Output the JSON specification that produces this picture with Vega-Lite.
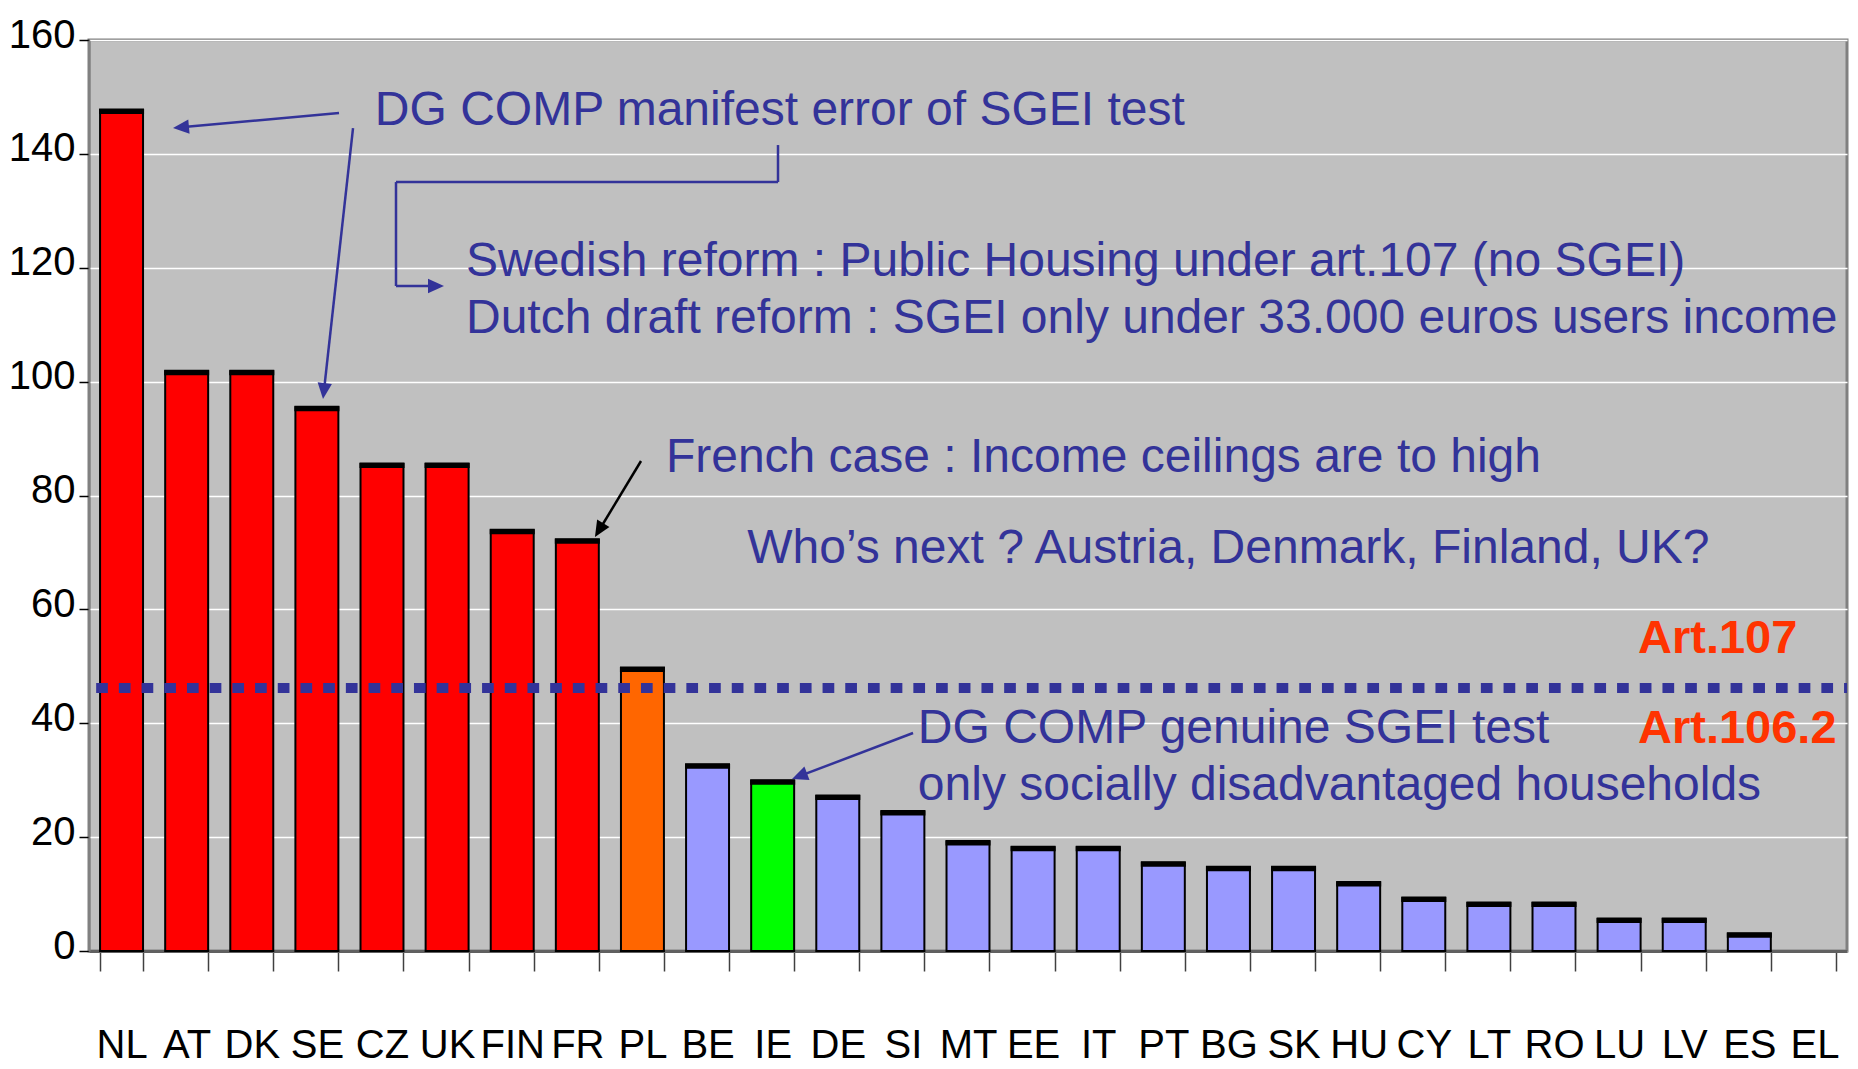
{
  "$schema": "https://vega.github.io/schema/vega-lite/v6.json",
  "width": 1758,
  "height": 911,
  "autosize": {"type": "none"},
  "padding": {"left": 89, "top": 40, "right": 11, "bottom": 118},
  "background": "white",
  "config": {
    "view": {"fill": "#C0C0C0", "stroke": "#808080", "strokeWidth": 3},
    "axis": {"title": null},
    "axisY": {
      "labelFont": "'Liberation Sans', Arial, sans-serif",
      "labelFontSize": 40,
      "labelColor": "black",
      "labelPadding": 4,
      "labelOffset": -5,
      "labelOverlap": false,
      "tickColor": "black",
      "tickSize": 10,
      "tickWidth": 1.5,
      "domainColor": "#808080",
      "domainWidth": 2,
      "grid": true,
      "gridColor": "white",
      "gridWidth": 1.5
    },
    "axisX": {
      "labelFont": "'Liberation Sans', Arial, sans-serif",
      "labelFontSize": 40,
      "labelColor": "black",
      "labelAngle": 0,
      "labelBaseline": "alphabetic",
      "labelPadding": 86,
      "tickBand": "extent",
      "tickSize": 20,
      "tickColor": "#404040",
      "tickWidth": 1.5,
      "domainColor": "#606060",
      "domainWidth": 3,
      "grid": false
    }
  },
  "datasets": {
    "bars": [
      {"country": "NL", "value": 147.8, "group": "above"},
      {"country": "AT", "value": 101.9, "group": "above"},
      {"country": "DK", "value": 101.9, "group": "above"},
      {"country": "SE", "value": 95.6, "group": "above"},
      {"country": "CZ", "value": 85.6, "group": "above"},
      {"country": "UK", "value": 85.6, "group": "above"},
      {"country": "FIN", "value": 74.0, "group": "above"},
      {"country": "FR", "value": 72.3, "group": "above"},
      {"country": "PL", "value": 49.8, "group": "border"},
      {"country": "BE", "value": 32.8, "group": "below"},
      {"country": "IE", "value": 30.0, "group": "ireland"},
      {"country": "DE", "value": 27.3, "group": "below"},
      {"country": "SI", "value": 24.6, "group": "below"},
      {"country": "MT", "value": 19.3, "group": "below"},
      {"country": "EE", "value": 18.3, "group": "below"},
      {"country": "IT", "value": 18.3, "group": "below"},
      {"country": "PT", "value": 15.6, "group": "below"},
      {"country": "BG", "value": 14.8, "group": "below"},
      {"country": "SK", "value": 14.8, "group": "below"},
      {"country": "HU", "value": 12.1, "group": "below"},
      {"country": "CY", "value": 9.4, "group": "below"},
      {"country": "LT", "value": 8.5, "group": "below"},
      {"country": "RO", "value": 8.5, "group": "below"},
      {"country": "LU", "value": 5.7, "group": "below"},
      {"country": "LV", "value": 5.7, "group": "below"},
      {"country": "ES", "value": 3.1, "group": "below"},
      {"country": "EL", "value": 0, "group": "below"}
    ],
    "threshold": [{"x": 0.11, "x2": 27, "y": 46.2}],
    "blueSegments": [
      {"x": 3.84, "y": 147.17, "x2": 1.413, "y2": 144.66},
      {"x": 4.055, "y": 144.54, "x2": 3.608, "y2": 98.35},
      {"x": 10.582, "y": 141.55, "x2": 10.582, "y2": 135.05},
      {"x": 10.582, "y": 135.05, "x2": 4.715, "y2": 135.05},
      {"x": 4.715, "y": 135.05, "x2": 4.715, "y2": 116.79},
      {"x": 4.715, "y": 116.79, "x2": 5.33, "y2": 116.79},
      {"x": 12.656, "y": 38.29, "x2": 10.91, "y2": 30.7}
    ],
    "blackSegments": [
      {"x": 8.478, "y": 86.06, "x2": 7.835, "y2": 73.9}
    ],
    "heads": [
      {"arrow": "a", "x": 1.29, "y": 144.54},
      {"arrow": "b", "x": 3.594, "y": 96.94},
      {"arrow": "c", "x": 5.452, "y": 116.79},
      {"arrow": "d", "x": 7.771, "y": 72.71},
      {"arrow": "e", "x": 10.797, "y": 30.21}
    ],
    "notes": [
      {"label": "DG COMP manifest error of SGEI test", "x": 4.39, "y": 145.1},
      {"label": "Swedish reform : Public Housing under art.107 (no SGEI)", "x": 5.79, "y": 118.6},
      {"label": "Dutch draft reform : SGEI only under 33.000 euros users income", "x": 5.79, "y": 108.6},
      {"label": "French case : Income ceilings are to high", "x": 8.86, "y": 84.1},
      {"label": "Who’s next ? Austria, Denmark, Finland, UK?", "x": 10.11, "y": 68.1},
      {"label": "DG COMP genuine SGEI test", "x": 12.73, "y": 36.5},
      {"label": "only socially disadvantaged households", "x": 12.73, "y": 26.5}
    ],
    "arts": [
      {"label": "Art.107", "x": 23.79, "y": 52.3},
      {"label": "Art.106.2", "x": 23.79, "y": 36.6}
    ]
  },
  "layer": [
    {
      "data": {"name": "bars"},
      "layer": [
        {
          "mark": {"type": "bar", "stroke": "black", "strokeWidth": 2},
          "encoding": {
            "x": {"field": "country", "type": "nominal", "sort": null,
                  "scale": {"paddingInner": 0.34, "paddingOuter": 0.17}},
            "y": {"field": "value", "type": "quantitative", "scale": {"domain": [0, 160], "nice": false},
                  "axis": {"values": [0, 20, 40, 60, 80, 100, 120, 140, 160]}},
            "color": {"field": "group", "type": "nominal", "legend": null,
                      "scale": {"domain": ["above", "border", "ireland", "below"],
                                "range": ["#FF0000", "#FF6600", "#00FF00", "#9999FF"]}},
            "strokeOpacity": {"condition": {"test": "datum.value == 0", "value": 0}, "value": 1}
          }
        },
        {
          "transform": [{"filter": "datum.value > 0"}],
          "mark": {"type": "tick", "color": "black", "size": 45, "thickness": 5, "yOffset": 2, "opacity": 1},
          "encoding": {
            "x": {"field": "country", "type": "nominal", "sort": null},
            "y": {"field": "value", "type": "quantitative", "axis": {"values": [0, 20, 40, 60, 80, 100, 120, 140, 160]}}
          }
        }
      ]
    },
    {
      "data": {"name": "threshold"},
      "mark": {"type": "rule", "color": "#333399", "strokeWidth": 10, "strokeDash": [11.7, 11], "strokeCap": "butt"},
      "encoding": {
        "x": {"field": "x", "type": "quantitative", "scale": {"domain": [0, 27], "nice": false, "zero": false}, "axis": null},
        "x2": {"field": "x2"},
        "y": {"field": "y", "type": "quantitative", "axis": {"values": [0, 20, 40, 60, 80, 100, 120, 140, 160]}}
      }
    },
    {
      "data": {"name": "blueSegments"},
      "mark": {"type": "rule", "color": "#333399", "strokeWidth": 2.5},
      "encoding": {
        "x": {"field": "x", "type": "quantitative", "scale": {"domain": [0, 27], "nice": false, "zero": false}, "axis": null},
        "x2": {"field": "x2"},
        "y": {"field": "y", "type": "quantitative", "axis": {"values": [0, 20, 40, 60, 80, 100, 120, 140, 160]}},
        "y2": {"field": "y2"}
      }
    },
    {
      "data": {"name": "blackSegments"},
      "mark": {"type": "rule", "color": "black", "strokeWidth": 2.5},
      "encoding": {
        "x": {"field": "x", "type": "quantitative", "scale": {"domain": [0, 27], "nice": false, "zero": false}, "axis": null},
        "x2": {"field": "x2"},
        "y": {"field": "y", "type": "quantitative", "axis": {"values": [0, 20, 40, 60, 80, 100, 120, 140, 160]}},
        "y2": {"field": "y2"}
      }
    },
    {
      "data": {"name": "heads"},
      "transform": [{"filter": "datum.arrow == 'a'"}],
      "mark": {"type": "point", "shape": "M0,0L-0.45,1L0.45,1Z", "filled": true, "color": "#333399", "opacity": 1, "size": 1024, "angle": 264.8, "strokeWidth": 0},
      "encoding": {
        "x": {"field": "x", "type": "quantitative", "scale": {"domain": [0, 27], "nice": false, "zero": false}, "axis": null},
        "y": {"field": "y", "type": "quantitative", "axis": {"values": [0, 20, 40, 60, 80, 100, 120, 140, 160]}}
      }
    },
    {
      "data": {"name": "heads"},
      "transform": [{"filter": "datum.arrow == 'b'"}],
      "mark": {"type": "point", "shape": "M0,0L-0.45,1L0.45,1Z", "filled": true, "color": "#333399", "opacity": 1, "size": 1024, "angle": 186.3, "strokeWidth": 0},
      "encoding": {
        "x": {"field": "x", "type": "quantitative", "scale": {"domain": [0, 27], "nice": false, "zero": false}, "axis": null},
        "y": {"field": "y", "type": "quantitative", "axis": {"values": [0, 20, 40, 60, 80, 100, 120, 140, 160]}}
      }
    },
    {
      "data": {"name": "heads"},
      "transform": [{"filter": "datum.arrow == 'c'"}],
      "mark": {"type": "point", "shape": "M0,0L-0.45,1L0.45,1Z", "filled": true, "color": "#333399", "opacity": 1, "size": 1024, "angle": 90, "strokeWidth": 0},
      "encoding": {
        "x": {"field": "x", "type": "quantitative", "scale": {"domain": [0, 27], "nice": false, "zero": false}, "axis": null},
        "y": {"field": "y", "type": "quantitative", "axis": {"values": [0, 20, 40, 60, 80, 100, 120, 140, 160]}}
      }
    },
    {
      "data": {"name": "heads"},
      "transform": [{"filter": "datum.arrow == 'd'"}],
      "mark": {"type": "point", "shape": "M0,0L-0.45,1L0.45,1Z", "filled": true, "color": "black", "opacity": 1, "size": 1024, "angle": 211.2, "strokeWidth": 0},
      "encoding": {
        "x": {"field": "x", "type": "quantitative", "scale": {"domain": [0, 27], "nice": false, "zero": false}, "axis": null},
        "y": {"field": "y", "type": "quantitative", "axis": {"values": [0, 20, 40, 60, 80, 100, 120, 140, 160]}}
      }
    },
    {
      "data": {"name": "heads"},
      "transform": [{"filter": "datum.arrow == 'e'"}],
      "mark": {"type": "point", "shape": "M0,0L-0.45,1L0.45,1Z", "filled": true, "color": "#333399", "opacity": 1, "size": 1024, "angle": 249.2, "strokeWidth": 0},
      "encoding": {
        "x": {"field": "x", "type": "quantitative", "scale": {"domain": [0, 27], "nice": false, "zero": false}, "axis": null},
        "y": {"field": "y", "type": "quantitative", "axis": {"values": [0, 20, 40, 60, 80, 100, 120, 140, 160]}}
      }
    },
    {
      "data": {"name": "notes"},
      "mark": {"type": "text", "align": "left", "baseline": "alphabetic", "font": "'Liberation Sans', Arial, sans-serif", "fontSize": 48, "color": "#333399"},
      "encoding": {
        "x": {"field": "x", "type": "quantitative", "scale": {"domain": [0, 27], "nice": false, "zero": false}, "axis": null},
        "y": {"field": "y", "type": "quantitative", "axis": {"values": [0, 20, 40, 60, 80, 100, 120, 140, 160]}},
        "text": {"field": "label"}
      }
    },
    {
      "data": {"name": "arts"},
      "mark": {"type": "text", "align": "left", "baseline": "alphabetic", "font": "'Liberation Sans', Arial, sans-serif", "fontSize": 47, "fontWeight": "bold", "color": "#FF3300"},
      "encoding": {
        "x": {"field": "x", "type": "quantitative", "scale": {"domain": [0, 27], "nice": false, "zero": false}, "axis": null},
        "y": {"field": "y", "type": "quantitative", "axis": {"values": [0, 20, 40, 60, 80, 100, 120, 140, 160]}},
        "text": {"field": "label"}
      }
    }
  ],
  "resolve": {"scale": {"x": "independent"}}
}
